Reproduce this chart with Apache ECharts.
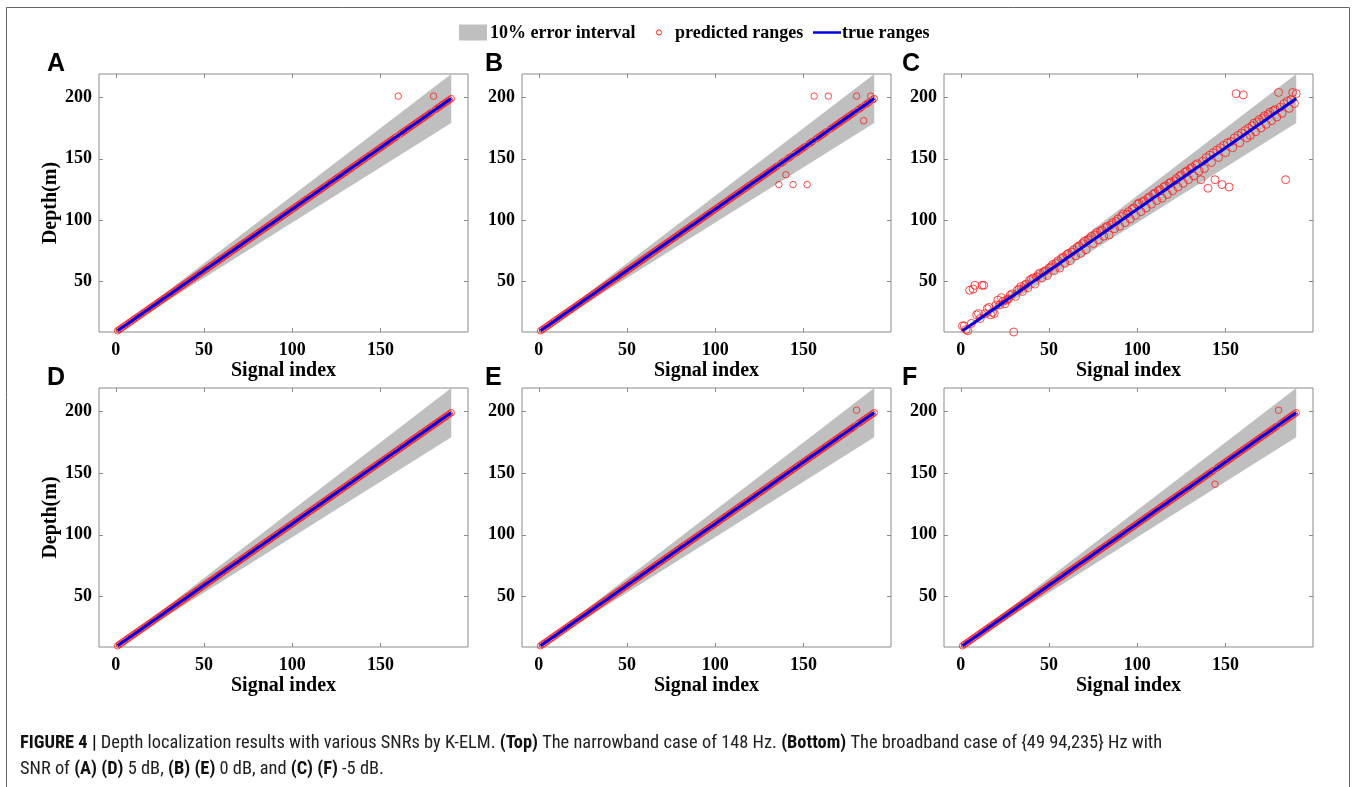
<!DOCTYPE html>
<html><head><meta charset="utf-8">
<script src="https://cdn.jsdelivr.net/npm/echarts@6/dist/echarts.min.js"></script>
<style>html,body{margin:0;padding:0;background:#fff}#chart{width:1354px;height:787px}</style>
</head><body><div id="chart"></div>
<script>
const signalIndex = [
  1,2,3,4,5,6,7,8,9,10,11,12,13,14,15,16,17,18,19,20,
  21,22,23,24,25,26,27,28,29,30,31,32,33,34,35,36,37,38,39,40,
  41,42,43,44,45,46,47,48,49,50,51,52,53,54,55,56,57,58,59,60,
  61,62,63,64,65,66,67,68,69,70,71,72,73,74,75,76,77,78,79,80,
  81,82,83,84,85,86,87,88,89,90,91,92,93,94,95,96,97,98,99,100,
  101,102,103,104,105,106,107,108,109,110,111,112,113,114,115,116,117,118,119,120,
  121,122,123,124,125,126,127,128,129,130,131,132,133,134,135,136,137,138,139,140,
  141,142,143,144,145,146,147,148,149,150,151,152,153,154,155,156,157,158,159,160,
  161,162,163,164,165,166,167,168,169,170,171,172,173,174,175,176,177,178,179,180,
  181,182,183,184,185,186,187,188,189,190
];
const trueDepth = [
  10,11,12,13,14,15,16,17,18,19,20,21,22,23,24,25,26,27,28,29,
  30,31,32,33,34,35,36,37,38,39,40,41,42,43,44,45,46,47,48,49,
  50,51,52,53,54,55,56,57,58,59,60,61,62,63,64,65,66,67,68,69,
  70,71,72,73,74,75,76,77,78,79,80,81,82,83,84,85,86,87,88,89,
  90,91,92,93,94,95,96,97,98,99,100,101,102,103,104,105,106,107,108,109,
  110,111,112,113,114,115,116,117,118,119,120,121,122,123,124,125,126,127,128,129,
  130,131,132,133,134,135,136,137,138,139,140,141,142,143,144,145,146,147,148,149,
  150,151,152,153,154,155,156,157,158,159,160,161,162,163,164,165,166,167,168,169,
  170,171,172,173,174,175,176,177,178,179,180,181,182,183,184,185,186,187,188,189,
  190,191,192,193,194,195,196,197,198,199
];
const bandIndex = [1, 190];
const bandLower = [9, 179.1];
const bandUpper = [11, 218.9];

const outliersA = [[160, 201], [180, 201]];
const outliersB = [[136, 129], [140, 137], [144, 129], [152, 129], [156, 201], [164, 201], [180, 201], [184, 181], [188, 201]];
const predictedC = [
  14,14,11,10,43,16,44,47,23,24,
  20,47,47,24,28,29,23,25,24,31,
  35,31,37,34,32,35,36,39,40,9,
  38,43,44,46,42,47,48,45,51,52,
  53,48,54,56,57,53,58,59,55,61,
  62,64,59,65,67,61,69,70,65,72,
  73,67,74,76,71,78,79,73,81,83,
  76,84,85,87,81,88,90,84,91,92,
  87,94,95,88,96,98,93,99,101,95,
  103,105,98,105,107,101,109,110,104,113,
  114,107,115,116,110,118,119,113,121,122,
  116,124,125,118,127,128,121,130,131,124,
  132,134,127,136,137,130,139,140,133,142,
  143,136,145,146,140,133,148,142,151,126,
  153,147,155,133,157,151,159,129,161,155,
  163,127,164,159,167,203,169,163,171,202,
  173,167,175,169,177,179,172,180,182,175,
  183,185,178,186,188,181,189,190,184,204,
  192,187,195,133,197,191,198,204,195,203
];
const outliersD = [];
const outliersE = [[180, 201]];
const outliersF = [[144, 141], [180, 201]];

const xTickValues = [0, 50, 100, 150];
const yTickValues = [50, 100, 150, 200];
const panelLetters = ['A', 'B', 'C', 'D', 'E', 'F'];
const legendNames = ['10% error interval', 'predicted ranges', 'true ranges'];
const xAxisTitle = 'Signal index';
const yAxisTitle = 'Depth(m)';
const captionLine1 = [
  ['FIGURE 4 | ', true], ['Depth localization results with various SNRs by K-ELM. ', false],
  ['(Top)', true], [' The narrowband case of 148 Hz. ', false],
  ['(Bottom)', true], [' The broadband case of {49 94,235} Hz with', false]
];
const captionLine2 = [
  ['SNR of ', false], ['(A) (D)', true], [' 5 dB, ', false], ['(B) (E)', true],
  [' 0 dB, and ', false], ['(C) (F)', true], [' -5 dB.', false]
];

function withOutliers(list) {
  const out = trueDepth.slice();
  list.forEach(function (o) { out[signalIndex.indexOf(o[0])] = o[1]; });
  return out;
}
const predicted = [
  withOutliers(outliersA), withOutliers(outliersB), predictedC,
  withOutliers(outliersD), withOutliers(outliersE), withOutliers(outliersF)
];

// ---------- layout ----------
const SERIF = "'Liberation Serif','Times New Roman',serif";
const SANS = "'Liberation Sans',Arial,sans-serif";
const NARROW = "'Liberation Sans Narrow','Arial Narrow','Roboto Condensed',sans-serif";
const lefts = [99, 522, 944];
const tops = [74, 388];
const W = 369, Hs = [258, 259];
const AXC = '#8a8a8a';
const markerSizes = [6.5, 6.5, 8, 6.5, 6.5, 6.5];

const grids = [], xAxes = [], yAxes = [], series = [], graphics = [];
for (let p = 0; p < 6; p++) {
  const col = p % 3, row = Math.floor(p / 3);
  grids.push({left: lefts[col], top: tops[row], width: W, height: Hs[row],
    show: true, borderColor: AXC, borderWidth: 1, backgroundColor: '#fff'});
  const tickStyle = {inside: true, length: 4, lineStyle: {color: AXC, width: 1}};
  const noLine = {show: false, onZero: false};
  xAxes.push({gridIndex: p, type: 'value', min: -9.5, max: 199.5, position: 'bottom',
    axisLine: noLine, splitLine: {show: false},
    axisTick: Object.assign({customValues: xTickValues}, tickStyle),
    axisLabel: {customValues: xTickValues, margin: 9, color: '#000', fontFamily: SERIF, fontWeight: 'bold', fontSize: 18},
    name: xAxisTitle, nameLocation: 'middle', nameGap: 29,
    nameTextStyle: {color: '#000', fontFamily: SERIF, fontWeight: 'bold', fontSize: 20}});
  xAxes.push({gridIndex: p, type: 'value', min: -9.5, max: 199.5, position: 'top',
    axisLine: noLine, splitLine: {show: false}, axisLabel: {show: false},
    axisTick: Object.assign({customValues: xTickValues}, tickStyle)});
  const yl = {gridIndex: p, type: 'value', min: 9, max: 219, position: 'left',
    axisLine: noLine, splitLine: {show: false},
    axisTick: Object.assign({customValues: yTickValues}, tickStyle),
    axisLabel: {customValues: yTickValues, margin: 7, color: '#000', fontFamily: SERIF, fontWeight: 'bold', fontSize: 18}};
  if (col === 0) {
    yl.name = yAxisTitle; yl.nameLocation = 'middle'; yl.nameGap = 37;
    yl.nameTextStyle = {color: '#000', fontFamily: SERIF, fontWeight: 'bold', fontSize: 20};
  }
  yAxes.push(yl);
  yAxes.push({gridIndex: p, type: 'value', min: 9, max: 219, position: 'right',
    axisLine: noLine, splitLine: {show: false}, axisLabel: {show: false},
    axisTick: Object.assign({customValues: yTickValues}, tickStyle)});

  series.push({type: 'custom', name: legendNames[0], xAxisIndex: 2 * p, yAxisIndex: 2 * p,
    clip: true, z: 1, silent: true,
    data: bandIndex.map(function (x, k) { return [x, bandLower[k], bandUpper[k]]; }),
    encode: {x: 0, y: [1, 2]},
    renderItem: function (params, api) {
      if (params.dataIndex !== 0) return null;
      const n = bandIndex.length, pts = [];
      for (let k = 0; k < n; k++) pts.push(api.coord([bandIndex[k], bandUpper[k]]));
      for (let k = n - 1; k >= 0; k--) pts.push(api.coord([bandIndex[k], bandLower[k]]));
      return {type: 'polygon', shape: {points: pts}, style: {fill: '#bfbfbf'}};
    }});
  series.push({type: 'scatter', name: legendNames[1], xAxisIndex: 2 * p, yAxisIndex: 2 * p,
    z: 2, silent: true, symbol: 'circle', symbolSize: markerSizes[p],
    itemStyle: {color: 'rgba(0,0,0,0)', borderColor: '#ff1a1a', borderWidth: 1},
    data: signalIndex.map(function (x, k) { return [x, predicted[p][k]]; })});
  series.push({type: 'line', name: legendNames[2], xAxisIndex: 2 * p, yAxisIndex: 2 * p,
    z: 3, silent: true, showSymbol: false,
    lineStyle: {color: '#0000e6', width: 3},
    data: signalIndex.map(function (x, k) { return [x, trueDepth[k]]; })});

  graphics.push({type: 'text', left: [47, 485, 902][col], top: [67, 381][row] - 15,
    style: {text: panelLetters[p], font: 'bold 25px ' + SANS, fill: '#000'}});
}

// outer frame
graphics.push({type: 'rect', shape: {x: 6.5, y: 7.5, width: 1343, height: 900},
  style: {fill: 'none', stroke: '#666', lineWidth: 1}, z: -1});
// legend
graphics.push({type: 'rect', shape: {x: 459, y: 24.5, width: 28, height: 16}, style: {fill: '#bfbfbf'}});
graphics.push({type: 'text', x: 490, y: 33, style: {text: legendNames[0], font: 'bold 18px ' + SERIF, fill: '#000', verticalAlign: 'middle'}});
graphics.push({type: 'circle', shape: {cx: 659, cy: 32.5, r: 2.6}, style: {fill: 'none', stroke: '#ff1a1a', lineWidth: 1}});
graphics.push({type: 'text', x: 675, y: 33, style: {text: legendNames[1], font: 'bold 18px ' + SERIF, fill: '#000', verticalAlign: 'middle'}});
graphics.push({type: 'line', shape: {x1: 813, y1: 32.5, x2: 841, y2: 32.5}, style: {stroke: '#0000e6', lineWidth: 2.5}});
graphics.push({type: 'text', x: 842, y: 33, style: {text: legendNames[2], font: 'bold 18px ' + SERIF, fill: '#000', verticalAlign: 'middle'}});

// caption (font size fitted to the reference line width)
const cv = document.createElement('canvas').getContext('2d');
function lineWidth(segs, size) {
  let w = 0;
  segs.forEach(function (s) { cv.font = (s[1] ? 'bold ' : '') + size + 'px ' + NARROW; w += cv.measureText(s[0]).width; });
  return w;
}
const capSize = 18 * 1143 / lineWidth(captionLine1, 18);
function richText(segs) {
  return segs.map(function (s) { return s[1] ? '{b|' + s[0] + '}' : s[0]; }).join('');
}
[captionLine1, captionLine2].forEach(function (segs, i) {
  graphics.push({type: 'text', x: 20, y: [743, 769][i],
    style: {text: richText(segs), fontFamily: NARROW, fontSize: capSize, fill: '#222', verticalAlign: 'middle',
      rich: {b: {fontFamily: NARROW, fontSize: capSize, fontWeight: 'bold', fill: '#111'}}}});
});

const chart = echarts.init(document.getElementById('chart'), null, {renderer: 'canvas'});
chart.setOption({animation: false, backgroundColor: '#fff',
  grid: grids, xAxis: xAxes, yAxis: yAxes, series: series, graphic: graphics});
</script></body></html>
